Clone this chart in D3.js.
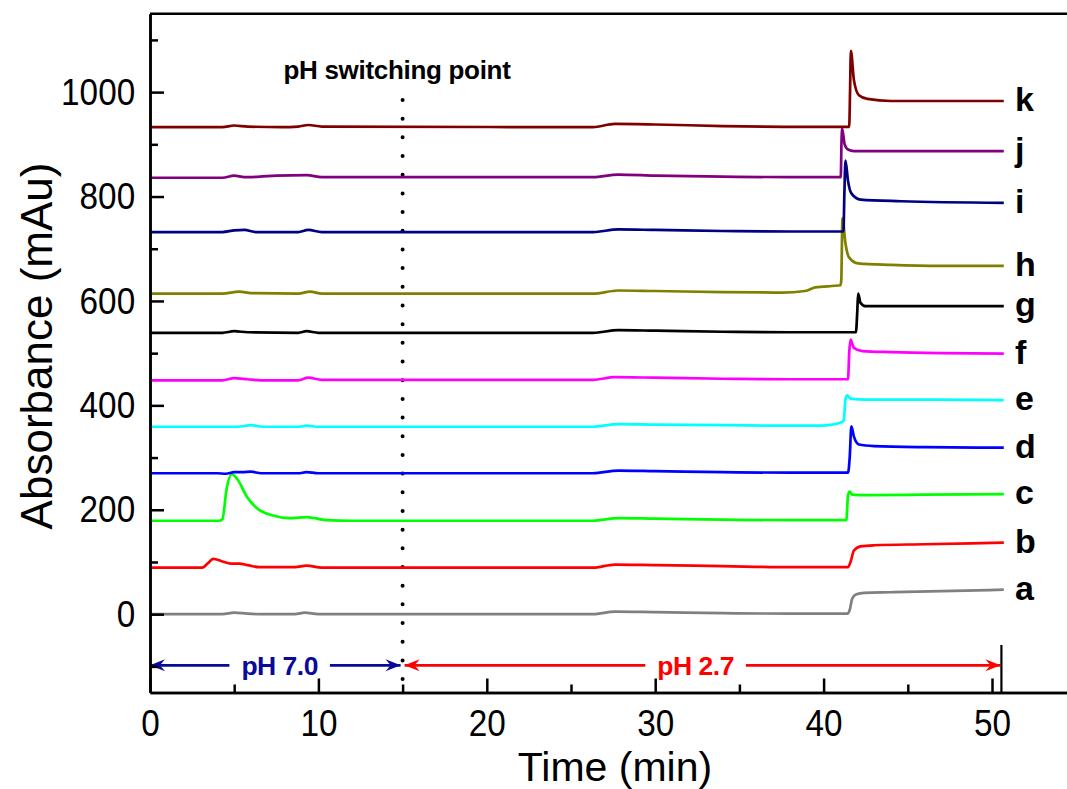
<!DOCTYPE html>
<html>
<head>
<meta charset="utf-8">
<script src="https://cdn.jsdelivr.net/npm/d3@7"></script>
<style>
  html, body { margin: 0; padding: 0; background: #fff; }
  svg { display: block; }
  text { font-family: "Liberation Sans", Arial, Helvetica, sans-serif; }
</style>
</head>
<body>
<svg id="chart" width="1067" height="789"></svg>
<script>
// Chromatograms a–k: [time (min), absorbance (mAu)]
const seriesA = [[0,0],[4.3,0],[5.0,3],[5.8,1],[6.6,0],[8.6,0],[9.2,3],[10,0],[26.3,0],[27.6,5],[30,4],[34,2],[38,1],[41.4,1],[41.55,8],[41.7,30],[41.95,38],[42.4,41],[44,42],[47,44],[50.7,47]];
const seriesB = [[0,89],[3.1,89],[3.45,98],[3.75,106],[4.3,101],[4.8,97],[5.3,97],[5.8,94],[6.5,90],[8.6,90],[9.3,93],[10.2,89],[26.3,89],[27.6,95],[30,94],[34,92],[38,90],[41.45,90],[41.6,100],[41.8,122],[42.2,130],[43,132],[46,134],[50.7,137]];
const seriesC = [[0,179],[4.1,179],[4.3,182],[4.55,240],[4.85,268],[5.2,258],[5.75,225],[6.35,203],[7.3,189],[8.3,184],[9.3,186],[10.5,180],[12,179],[26.3,179],[27.8,184],[30,183],[34,181],[38,180],[41.35,180],[41.45,228],[41.55,235],[41.7,229],[42.5,228],[46,229],[50.7,230]];
const seriesD = [[0,270],[4,270],[4.5,269],[5,272],[5.5,272],[6,273],[6.6,270],[8.8,270],[9.3,272],[10,270],[26.3,270],[27.8,275],[30,274],[34,272],[38,271],[41.45,271],[41.55,300],[41.65,360],[41.8,340],[42.1,325],[43,322],[46,320],[50.7,319]];
const seriesE = [[0,359],[5.2,359],[6,362],[6.7,359],[8.8,359],[9.3,361],[10,359],[26.3,359],[27.8,364],[30,363],[34,362],[38,361],[39.5,361],[40.3,362],[41.1,368],[41.2,372],[41.3,412],[41.4,419],[41.6,413],[42.5,411],[46,411],[50.7,410]];
const seriesF = [[0,448],[4.3,448],[5,452],[5.8,450],[6.6,448],[8.8,448],[9.4,453],[10.2,449],[26.3,449],[27.6,454],[30,453],[34,451],[38,450],[41.45,450],[41.52,500],[41.6,526],[41.8,510],[42.3,504],[44,502],[47,500],[50.7,499]];
const seriesG = [[0,539],[4.3,539],[5,542],[5.8,540],[8.8,539],[9.3,542],[10,539],[26.3,539],[27.8,544],[30,543],[34,541],[38,540],[41.92,540],[42.0,580],[42.05,614],[42.2,596],[42.5,590],[46,590],[50.7,590]];
const seriesH = [[0,614],[4.3,614],[5.3,618],[6,615],[8.8,614],[9.5,618],[10.2,614],[26.3,614],[27.8,620],[30,619],[34,617],[37.5,616],[38.9,619],[39.5,626],[41.0,630],[41.05,640],[41.12,758],[41.3,710],[41.5,684],[42.05,672],[44,669],[47,667],[50.7,667]];
const seriesI = [[0,732],[4.3,732],[5,735],[5.6,736],[6.3,732],[8.8,732],[9.4,736],[10.2,732],[26.3,732],[27.8,737],[30,736],[34,734],[38,733],[41.18,733],[41.23,800],[41.3,869],[41.45,830],[41.65,806],[42.2,794],[44.6,791],[50.7,788]];
const seriesJ = [[0,836],[4.3,836],[5,840],[5.6,837],[6.5,838],[7.5,840],[9.3,841],[10.2,837],[26.3,837],[27.8,842],[30,840],[34,838],[38,837],[41.02,837],[41.06,900],[41.1,930],[41.25,900],[41.45,890],[41.8,887],[50.7,887]];
const seriesK = [[0,933],[4.3,933],[5,936],[5.8,934],[7.8,933],[8.8,934],[9.4,937],[10.2,934],[26.3,933],[27.6,939],[30,938],[34,935],[38.9,933.5],[41.52,933.5],[41.57,1000],[41.62,1079],[41.8,1023],[42.1,994],[42.6,987],[44,983],[50.7,983]];

const seriesList = [seriesA, seriesB, seriesC, seriesD, seriesE, seriesF, seriesG, seriesH, seriesI, seriesJ, seriesK];
const seriesNames = ["a", "b", "c", "d", "e", "f", "g", "h", "i", "j", "k"];
const seriesColors = ["#808080", "#ff0000", "#00ff00", "#0000ff", "#00ffff", "#ff00ff", "#000000", "#808000", "#000080", "#800080", "#800000"];

// Axis ticks
const xMajorTicks = [0, 10, 20, 30, 40, 50];
const xMinorTicks = [5, 15, 25, 35, 45];
const yMajorTicks = [0, 200, 400, 600, 800, 1000];
const yMinorTicks = [-100, 100, 300, 500, 700, 900, 1100];

// Mobile-phase annotations (time in min)
const switchTime = 15;
const phStartTime = 0;
const phEndTime = 50.5;
const phLevel = -98;
const phLabels = ["pH 7.0", "pH 2.7"];
const phLabelTimes = [7.7, 32.4];
const phColors = ["#0a0a99", "#ff0000"];

const svg = d3.select("#chart");
const x = d3.scaleLinear().domain([0, 54.5]).range([150, 150 + 54.5 * 16.84]);
const y = d3.scaleLinear().domain([-150, 1150]).range([692.5, 13.8]);

const axisColor = "#000";
const axisWidth = 2.5;

// Frame top line (plot continues past the right edge)
svg.append("line")
  .attr("x1", x(0)).attr("x2", 1067)
  .attr("y1", y(1150)).attr("y2", y(1150))
  .attr("stroke", axisColor).attr("stroke-width", axisWidth);

// Switching point dotted line
svg.append("line")
  .attr("x1", x(switchTime)).attr("x2", x(switchTime))
  .attr("y1", 100).attr("y2", y(-150))
  .attr("stroke", "#000").attr("stroke-width", 4)
  .attr("stroke-linecap", "round")
  .attr("stroke-dasharray", "0 18.68");

svg.append("text")
  .attr("x", 397).attr("y", 79)
  .attr("text-anchor", "middle")
  .attr("font-size", 26).attr("font-weight", "bold")
  .attr("letter-spacing", -0.3)
  .text("pH switching point");

// Chromatogram traces
const line = d3.line()
  .x(d => x(d[0]))
  .y(d => y(d[1]))
  .curve(d3.curveMonotoneX);

seriesList.forEach((s, i) => {
  svg.append("path")
    .datum(s)
    .attr("fill", "none")
    .attr("stroke", seriesColors[i])
    .attr("stroke-width", 2.7)
    .attr("stroke-linejoin", "round")
    .attr("d", line);
  const last = s[s.length - 1];
  svg.append("text")
    .attr("x", 1015)
    .attr("y", y(last[1]) + 10)
    .attr("font-size", 34).attr("font-weight", "bold")
    .text(seriesNames[i]);
});

// Arrow markers
const defs = svg.append("defs");
phColors.forEach((c, i) => {
  defs.append("marker")
    .attr("id", "arrow" + i)
    .attr("viewBox", "-16 -7 17 14")
    .attr("refX", 0).attr("refY", 0)
    .attr("markerWidth", 17).attr("markerHeight", 14)
    .attr("markerUnits", "userSpaceOnUse")
    .attr("orient", "auto-start-reverse")
    .append("path")
    .attr("d", "M0,0 L-15,-6 L-10,0 L-15,6 Z")
    .attr("fill", c);
});

// pH ranges: two-headed arrows with label gaps
const ranges = [[phStartTime, switchTime], [switchTime, phEndTime]];
ranges.forEach((r, i) => {
  const yy = y(phLevel);
  const t = svg.append("text")
    .attr("x", x(phLabelTimes[i])).attr("y", yy + 9.5)
    .attr("text-anchor", "middle")
    .attr("font-size", 26.5).attr("font-weight", "bold")
    .attr("letter-spacing", -0.5)
    .attr("fill", phColors[i])
    .text(phLabels[i]);
  const bb = t.node().getBBox();
  const x0 = x(r[0]) + (i === 1 ? 2 : 0);
  const x1 = x(r[1]) - (i === 0 ? 2 : 0);
  svg.append("line")
    .attr("x1", x0).attr("x2", bb.x - 12)
    .attr("y1", yy).attr("y2", yy)
    .attr("stroke", phColors[i]).attr("stroke-width", 2.6)
    .attr("marker-start", `url(#arrow${i})`);
  svg.append("line")
    .attr("x1", bb.x + bb.width + 12).attr("x2", x1)
    .attr("y1", yy).attr("y2", yy)
    .attr("stroke", phColors[i]).attr("stroke-width", 2.6)
    .attr("marker-end", `url(#arrow${i})`);
});

// End bar of the pH 2.7 range
svg.append("line")
  .attr("x1", x(phEndTime) + 1).attr("x2", x(phEndTime) + 1)
  .attr("y1", y(-59)).attr("y2", y(-150))
  .attr("stroke", "#000").attr("stroke-width", 2.2);

// Axes
const styleAxis = g => {
  g.selectAll("path.domain").attr("stroke", axisColor).attr("stroke-width", axisWidth);
  g.selectAll(".tick line").attr("stroke", axisColor).attr("stroke-width", axisWidth);
};

const yAxis = svg.append("g")
  .attr("transform", `translate(${x(0)},0)`)
  .call(d3.axisLeft(y).tickValues(yMajorTicks).tickFormat(d3.format("d")).tickSize(-14).tickSizeOuter(0));
yAxis.call(styleAxis);
yAxis.selectAll(".tick text")
  .attr("font-family", "'Liberation Sans', Arial, sans-serif")
  .attr("font-size", 37).attr("fill", "#000")
  .attr("text-anchor", "end")
  .attr("x", -16.5).attr("dy", "0.33em")
  .attr("transform", "scale(0.9,1)");

svg.append("g")
  .attr("transform", `translate(${x(0)},0)`)
  .call(d3.axisLeft(y).tickValues(yMinorTicks).tickSize(-8).tickSizeOuter(0).tickFormat(""))
  .call(styleAxis);

const xAxis = svg.append("g")
  .attr("transform", `translate(0,${y(-150)})`)
  .call(d3.axisBottom(x).tickValues(xMajorTicks).tickFormat(d3.format("d")).tickSize(-14).tickSizeOuter(0));
xAxis.call(styleAxis);
xAxis.selectAll(".tick text")
  .attr("font-family", "'Liberation Sans', Arial, sans-serif")
  .attr("font-size", 37).attr("fill", "#000")
  .attr("y", 44).attr("dy", 0)
  .attr("transform", "scale(0.9,1)");

svg.append("g")
  .attr("transform", `translate(0,${y(-150)})`)
  .call(d3.axisBottom(x).tickValues(xMinorTicks).tickSize(-8).tickSizeOuter(0).tickFormat(""))
  .call(styleAxis);

// Axis titles
svg.append("text")
  .attr("x", 615).attr("y", 781)
  .attr("text-anchor", "middle")
  .attr("font-size", 41)
  .text("Time (min)");

svg.append("text")
  .attr("transform", "translate(52,346) rotate(-90)")
  .attr("text-anchor", "middle")
  .attr("font-size", 44)
  .text("Absorbance (mAu)");
</script>
</body>
</html>
